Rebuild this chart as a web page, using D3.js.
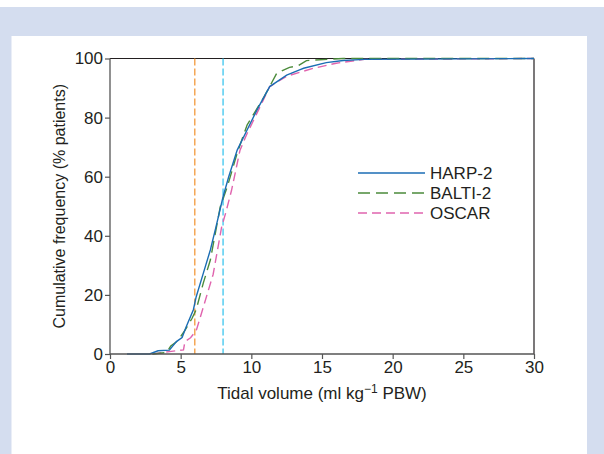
<!DOCTYPE html>
<html>
<head>
<meta charset="utf-8">
<script src="https://cdn.jsdelivr.net/npm/d3@7"></script>
<style>
  body { margin: 0; background: #fff; }
  svg text { font-family: "Liberation Sans", Arial, sans-serif; fill: #231f20; }
</style>
</head>
<body>
<div id="chart"></div>
<script>
// Cumulative frequency curves (tidal volume, % patients)
const harpX = [1.2, 2.8, 3.4, 4.2, 4.7, 5.1, 5.4, 5.9, 6.1, 6.6, 7.1, 7.5, 8.0, 8.4, 9.0, 9.7, 10.4, 11.3, 12.5, 13.5, 13.7, 15.3, 16.5, 18.0, 30];
const harpY = [0, 0, 1.1, 1.3, 4.2, 5.6, 9.3, 15, 19.4, 27.3, 35.2, 43, 53.2, 60, 69, 75.8, 82.6, 90.5, 94.4, 96.3, 96.7, 98.6, 99.3, 99.7, 100];

const baltiX = [3.0, 4.0, 4.3, 4.8, 5.3, 5.8, 6.1, 6.6, 7.1, 7.8, 8.3, 9.0, 9.7, 10.9, 11.8, 12.7, 13.3, 13.9, 16.5, 30];
const baltiY = [0, 0.5, 2.7, 4.5, 8, 12, 15, 24, 31.8, 49.8, 56.6, 68, 77.5, 87, 95, 97, 97.5, 99.3, 100, 100];

const oscarX = [3.0, 4.2, 5.2, 5.3, 5.7, 6.1, 6.6, 7.3, 7.9, 8.2, 8.6, 9.2, 9.7, 10.4, 11.3, 12.5, 14.4, 16.0, 18.0, 30];
const oscarY = [0, 0.8, 1.4, 4.2, 5.5, 7.9, 15.8, 27, 43, 48, 55.4, 69, 74.6, 81.5, 90.5, 94, 96.7, 98.4, 99.7, 100];

const refLines = [6, 8];
const refColors = ['#f39a3c', '#3cc6ef'];

const series = [
  { name: 'HARP-2', xs: harpX, ys: harpY, color: '#1b6db4', dash: null },
  { name: 'BALTI-2', xs: baltiX, ys: baltiY, color: '#4b8b3b', dash: '12,6' },
  { name: 'OSCAR', xs: oscarX, ys: oscarY, color: '#e064ae', dash: '9,5' }
];

const xTicks = [0, 5, 10, 15, 20, 25, 30];
const yTicks = [0, 20, 40, 60, 80, 100];

const width = 604, height = 454;

const svg = d3.select('#chart').append('svg')
  .attr('width', width)
  .attr('height', height);

// panel background
svg.append('rect').attr('x', 0).attr('y', 7).attr('width', width).attr('height', height - 7).attr('fill', '#d4ddef');
svg.append('rect').attr('x', 11.5).attr('y', 36).attr('width', 575.5).attr('height', height - 36).attr('fill', '#fff');

const x = d3.scaleLinear().domain([0, 30]).range([110, 534]);
const y = d3.scaleLinear().domain([0, 100]).range([354, 58.5]);

// frame top/right
svg.append('line').attr('x1', x(0)).attr('x2', x(30)).attr('y1', y(100)).attr('y2', y(100))
  .attr('stroke', '#231f20').attr('stroke-width', 1.2);
svg.append('line').attr('x1', x(30)).attr('x2', x(30)).attr('y1', y(100)).attr('y2', y(0))
  .attr('stroke', '#231f20').attr('stroke-width', 1.2);

// reference lines
refLines.forEach((v, i) => {
  svg.append('line')
    .attr('x1', x(v)).attr('x2', x(v))
    .attr('y1', y(100)).attr('y2', y(0))
    .attr('stroke', refColors[i])
    .attr('stroke-width', 1.3)
    .attr('stroke-dasharray', '7,3');
});

const line = d3.line().x(d => x(d[0])).y(d => y(d[1]));

// draw OSCAR, BALTI first, HARP on top
[series[2], series[1], series[0]].forEach(s => {
  const pts = s.xs.map((v, i) => [v, s.ys[i]]);
  svg.append('path')
    .datum(pts)
    .attr('d', line)
    .attr('fill', 'none')
    .attr('stroke', s.color)
    .attr('stroke-width', 1.4)
    .attr('stroke-dasharray', s.dash);
});

// axes
const xAxis = svg.append('g')
  .attr('transform', `translate(0,${y(0)})`)
  .call(d3.axisBottom(x).tickValues(xTicks).tickSize(5).tickPadding(2));
const yAxis = svg.append('g')
  .attr('transform', `translate(${x(0)},0)`)
  .call(d3.axisLeft(y).tickValues(yTicks).tickSize(5).tickPadding(2));

[xAxis, yAxis].forEach(a => {
  a.select('.domain').attr('stroke', '#555').attr('stroke-width', 1.3);
  a.selectAll('.tick line').attr('stroke', '#555').attr('stroke-width', 1.2);
  a.selectAll('.tick text').attr('font-size', 17).attr('fill', '#231f20')
    .style('font-family', '"Liberation Sans", Arial, sans-serif');
});
xAxis.select('.domain').attr('d', `M${x(0)},0H${x(30)}`);
yAxis.select('.domain').attr('d', `M0,${y(0)}V${y(100)}`);

// axis titles
const xt = svg.append('text')
  .attr('x', 322).attr('y', 399)
  .attr('text-anchor', 'middle')
  .attr('font-size', 17);
xt.append('tspan').text('Tidal volume (ml kg');
xt.append('tspan').attr('dy', -6).attr('font-size', 12).text('\u22121');
xt.append('tspan').attr('dy', 6).text(' PBW)');

svg.append('text')
  .attr('transform', `translate(65,${(y(0) + y(100)) / 2}) rotate(-90)`)
  .attr('text-anchor', 'middle')
  .attr('font-size', 16)
  .text('Cumulative frequency (% patients)');

// legend
const legendY = [173, 193, 213];
series.forEach((s, i) => {
  svg.append('line')
    .attr('x1', 358).attr('x2', 425)
    .attr('y1', legendY[i]).attr('y2', legendY[i])
    .attr('stroke', s.color)
    .attr('stroke-width', 1.4)
    .attr('stroke-dasharray', s.dash);
  svg.append('text')
    .attr('x', 430).attr('y', legendY[i] + 6)
    .attr('font-size', 17)
    .text(s.name);
});
</script>
</body>
</html>
